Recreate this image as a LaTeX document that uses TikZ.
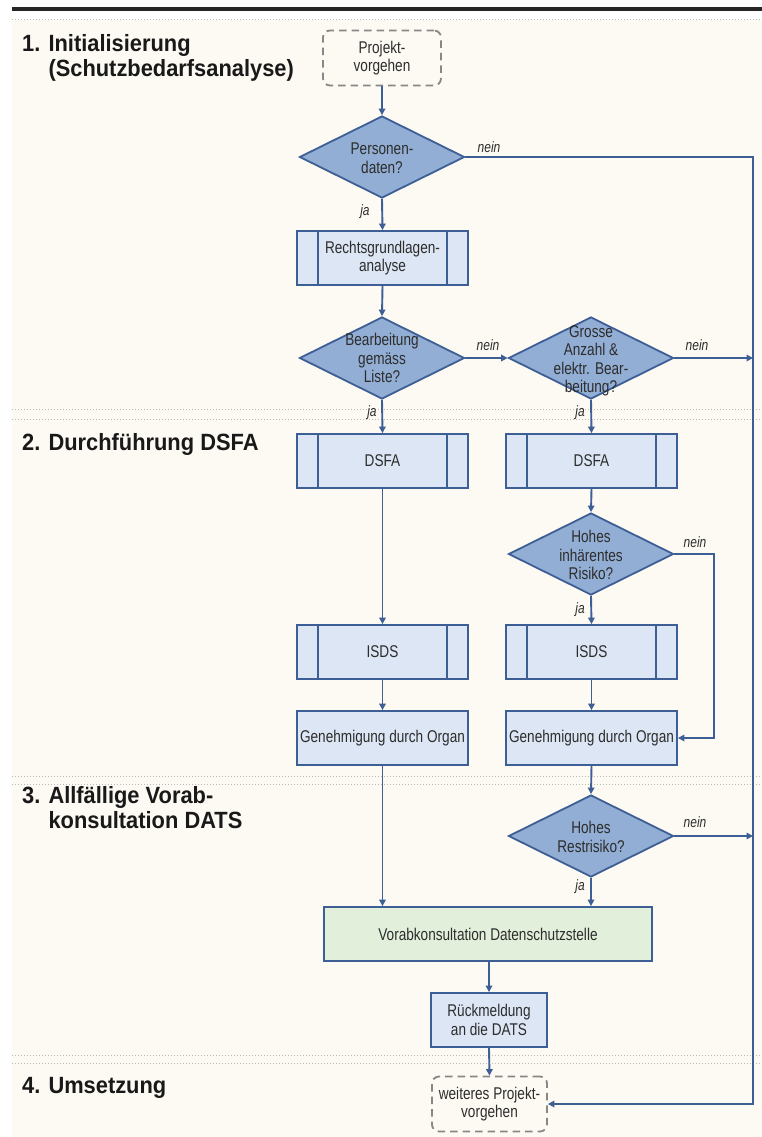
\documentclass[tikz,border=0pt]{standalone}
\usepackage{fontspec}
\setmainfont{Liberation Sans}[FakeStretch=0.80]
\newfontfamily\titlefont{Liberation Sans}[FakeStretch=0.93]
\usetikzlibrary{shapes.geometric,arrows.meta}
\definecolor{bg}{RGB}{253,250,243}
\definecolor{lc}{RGB}{62,94,150}
\definecolor{dfill}{RGB}{146,174,212}
\definecolor{bfill}{RGB}{221,230,244}
\definecolor{gfill}{RGB}{226,239,218}
\definecolor{txt}{RGB}{45,45,45}
\definecolor{dotc}{RGB}{185,185,185}
\definecolor{dashc}{RGB}{135,135,135}
\tikzset{
 conn/.style={draw=lc, line width=1.9pt, -{Triangle[length=6.5pt,width=6.5pt]}},
 dia/.style={diamond, draw=lc, fill=dfill, line width=1.8pt, minimum width=165pt, minimum height=82pt, inner sep=0pt},
 boxfont/.style={text=txt, font=\fontsize{17}{18.5}\selectfont, align=center},
 txtn/.style={boxfont, inner sep=0pt},
 proc/.style={rectangle, draw=lc, fill=bfill, line width=1.8pt, minimum width=171pt, minimum height=54pt, inner sep=2pt, boxfont},
 subproc/.style={proc, path picture={
   \draw[lc,line width=1.6pt] ([xshift=21pt]path picture bounding box.north west) -- ([xshift=21pt]path picture bounding box.south west);
   \draw[lc,line width=1.6pt] ([xshift=-21pt]path picture bounding box.north east) -- ([xshift=-21pt]path picture bounding box.south east);}},
 termbox/.style={rectangle, rounded corners=7pt, draw=dashc, dash pattern=on 7.5pt off 5pt, line width=1.8pt, minimum width=116pt, minimum height=55pt, boxfont},
 lab/.style={font=\itshape\fontsize{15}{15}\selectfont, text=txt, inner sep=0pt},
 ttl/.style={font=\titlefont\bfseries\fontsize{23.5}{25}\selectfont, text=black!90, anchor=base west, inner sep=0pt},
 sepline/.style={draw=dotc, line width=1pt, dash pattern=on 1.2pt off 1.8pt},
}
\begin{document}
\begin{tikzpicture}[x=1pt,y=-1pt]
\path[use as bounding box] (0,0) rectangle (762,1137);
\fill[white] (0,0) rectangle (762,1137);
\fill[bg] (12,20) rectangle (762,1137);
\fill[black!85] (12,7) rectangle (762,11.5);
% separators
\foreach \yy in {20,409,419,776,784,1055,1063} {\draw[sepline] (12,\yy) -- (762,\yy);}
% titles
\node[ttl] (t1a) at (22,52) {1. Initialisierung};
\node[ttl] (t1b) at (22,77) {\hphantom{1. }(Schutzbedarfsanalyse)};
\node[ttl] (t2) at (22,450) {2. Durchführung DSFA};
\node[ttl] (t3a) at (22,803) {3. Allfällige Vorab-};
\node[ttl] (t3b) at (22,828) {\hphantom{3. }konsultation DATS};
\node[ttl] (t4) at (22,1093) {4. Umsetzung};
% nodes
\node[termbox, minimum width=118pt] (proj) at (382,58) {Projekt-\\vorgehen};
\node[dia] (d1) at (382,157) {};
\node[txtn] (d1t) at (382,158) {Personen-\\daten?};
\node[subproc] (rg) at (382.5,258) {Rechtsgrundlagen-\\analyse};
\node[dia] (d2) at (382,358) {};
\node[txtn] (d2t) at (382,358) {Bearbeitung\\gemäss\\Liste?};
\node[dia] (d3) at (591,358) {};
\node[txtn] (d3t) at (591,361) {Grosse\\Anzahl \&\\elektr. Bear-\\beitung?};
\node[subproc] (dsfa1) at (382.5,461) {DSFA};
\node[subproc] (dsfa2) at (591.5,461) {DSFA};
\node[dia] (d4) at (591,554) {};
\node[txtn] (d4t) at (591,555) {Hohes\\inhärentes\\Risiko?};
\node[subproc] (isds1) at (382.5,652) {ISDS};
\node[subproc] (isds2) at (591.5,652) {ISDS};
\node[proc] (gen1) at (382.5,738) {Genehmigung durch Organ};
\node[proc] (gen2) at (591.5,738) {Genehmigung durch Organ};
\node[dia] (d5) at (591,836) {};
\node[txtn] (d5t) at (591,837) {Hohes\\Restrisiko?};
\node[proc, fill=gfill, minimum width=328pt] (vorab) at (488,934) {Vorabkonsultation Datenschutzstelle};
\node[proc, minimum width=116pt] (rueck) at (489,1020) {Rückmeldung\\an die DATS};
\node[termbox, minimum width=115pt] (weit) at (489.5,1104) {weiteres Projekt-\\vorgehen};
% coordinates
\coordinate (r1) at (753,157);
\coordinate (r2) at (753,358);
\coordinate (r3) at (753,836);
\coordinate (r4) at (753,1104);
\coordinate (n4a) at (714,554);
\coordinate (n4b) at (714,738);
% connectors
\draw[conn] (proj.south) -- (d1.north);
\draw[conn] (d1.south) -- (rg.north);
\draw[conn] (d1.east) -- (r1) -- (r4) -- (weit.east);
\draw[conn] (rg.south) -- (d2.north);
\draw[conn] (d2.east) -- (d3.west);
\draw[conn] (d3.east) -- (r2);
\draw[conn] (d2.south) -- (dsfa1.north);
\draw[conn] (d3.south) -- (dsfa2.north);
\draw[conn] (dsfa1.south) -- (isds1.north);
\draw[conn] (dsfa2.south) -- (d4.north);
\draw[conn] (d4.south) -- (isds2.north);
\draw[conn] (d4.east) -- (n4a) -- (n4b) -- (gen2.east);
\draw[conn] (isds1.south) -- (gen1.north);
\draw[conn] (isds2.south) -- (gen2.north);
\draw[conn] (gen1.south) -- (gen1.south |- vorab.north);
\draw[conn] (gen2.south) -- (d5.north);
\draw[conn] (d5.south) -- (d5.south |- vorab.north);
\draw[conn] (d5.east) -- (r3);
\draw[conn] (vorab.south -| rueck.north) -- (rueck.north);
\draw[conn] (rueck.south) -- (weit.north);
% labels
\node[lab] (l1) at (489,147) {nein};
\node[lab] (l2) at (365,212) {ja};
\node[lab] (l3) at (488,345) {nein};
\node[lab] (l4) at (697,345) {nein};
\node[lab] (l5) at (372,413) {ja};
\node[lab] (l6) at (580,413) {ja};
\node[lab] (l7) at (695,542) {nein};
\node[lab] (l8) at (580,610) {ja};
\node[lab] (l9) at (695,822) {nein};
\node[lab] (l10) at (580,887) {ja};
\end{tikzpicture}
\end{document}
